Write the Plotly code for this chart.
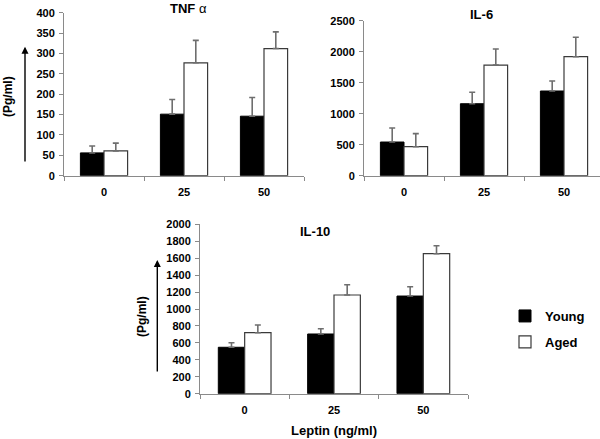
import plotly.graph_objects as go

# ---- data ----
doses = ['0', '25', '50']
series_names = ['Young', 'Aged']

tnf_young = [56, 151, 146]
tnf_young_err = [17, 36, 46]
tnf_aged = [61, 277, 312]
tnf_aged_err = [19, 55, 41]

il6_young = [543, 1161, 1366]
il6_young_err = [226, 184, 161]
il6_aged = [468, 1785, 1919]
il6_aged_err = [210, 258, 313]

il10_young = [548, 705, 1153]
il10_young_err = [54, 62, 110]
il10_aged = [720, 1165, 1653]
il10_aged_err = [91, 122, 94]

panel_titles = ['<b>TNF</b> α', '<b>IL-6</b>', '<b>IL-10</b>']
y_unit = '(Pg/ml)'
x_title = 'Leptin (ng/ml)'

W, H = 600, 439
FONT = 'Arial, "Liberation Sans", Helvetica, sans-serif'
AXC = '#8a8a8a'
ERRC = '#6e6e6e'

def px(x):
    return x / W

def py(y):
    return (H - y) / H

fig = go.Figure()

panels = [
    (tnf_young, tnf_young_err, tnf_aged, tnf_aged_err, 'x', 'y'),
    (il6_young, il6_young_err, il6_aged, il6_aged_err, 'x2', 'y2'),
    (il10_young, il10_young_err, il10_aged, il10_aged_err, 'x3', 'y3'),
]

for i, (yv, ye, av, ae, xa, ya) in enumerate(panels):
    fig.add_trace(go.Bar(
        x=doses, y=yv, name=series_names[0], legendgroup='young',
        showlegend=(i == 0), xaxis=xa, yaxis=ya, offsetgroup='young',
        marker=dict(color='#000000', line=dict(color='#000000', width=1)),
        error_y=dict(type='data', array=ye, arrayminus=[0] * len(ye),
                     symmetric=False, color=ERRC, thickness=1.6, width=3),
    ))
    fig.add_trace(go.Bar(
        x=doses, y=av, name=series_names[1], legendgroup='aged',
        showlegend=(i == 0), xaxis=xa, yaxis=ya, offsetgroup='aged',
        marker=dict(color='#ffffff', line=dict(color='#3a3a3a', width=1.2)),
        error_y=dict(type='data', array=ae, arrayminus=[0] * len(ae),
                     symmetric=False, color=ERRC, thickness=1.6, width=3),
    ))

tickfont = dict(family=FONT, size=11, color='#000000', weight='bold')

def xaxis(domain, anchor, rng=None, title=None):
    d = dict(domain=domain, anchor=anchor, type='category', showline=True,
             linecolor=AXC, linewidth=1, ticks='outside', tickson='boundaries',
             ticklen=4, tickcolor=AXC, tickfont=tickfont, showgrid=False,
             zeroline=False, ticklabelstandoff=6, automargin=False, fixedrange=True)
    if rng is not None:
        d['range'] = rng
    if title:
        d['title'] = dict(text=title, standoff=10,
                          font=dict(family=FONT, size=13, color='#000000', weight='bold'))
    return d

def yaxis(domain, anchor, rng, dtick):
    return dict(domain=domain, anchor=anchor, range=rng, dtick=dtick,
                showline=True, linecolor=AXC, linewidth=1, ticks='outside',
                ticklen=4, tickcolor=AXC, tickfont=tickfont, showgrid=False,
                zeroline=False, ticklabelstandoff=2, automargin=False, fixedrange=True)

fig.update_layout(
    width=W, height=H,
    margin=dict(l=0, r=0, t=0, b=0),
    paper_bgcolor='white', plot_bgcolor='white',
    barmode='group', bargap=0.41, bargroupgap=0,
    font=dict(family=FONT, color='#000000'),
    xaxis=xaxis([px(64), px(304)], 'y'),
    yaxis=yaxis([py(175.7), py(12.7)], 'x', [0, 400], 50),
    xaxis2=xaxis([px(364), 1.0], 'y2', rng=[-0.5, 2.45]),
    yaxis2=yaxis([py(175.7), py(20.7)], 'x2', [0, 2500], 500),
    xaxis3=xaxis([px(200), px(468)], 'y3', title=x_title),
    yaxis3=yaxis([py(393.7), py(224.3)], 'x3', [0, 2000], 200),
    legend=dict(x=px(505), y=py(301), xanchor='left', yanchor='top',
                traceorder='grouped', tracegroupgap=6,
                font=dict(family=FONT, size=13, color='#000000', weight='bold'),
                bgcolor='rgba(0,0,0,0)', borderwidth=0),
    showlegend=True,
)

ann = []
# panel titles
for txt, (cx, cy) in zip(panel_titles, [(188, 9), (481, 15), (315, 231)]):
    ann.append(dict(text=txt, x=px(cx), y=py(cy), xref='paper', yref='paper',
                    xanchor='center', yanchor='middle', showarrow=False,
                    font=dict(family=FONT, size=13, color='#000000')))
# y unit labels
for (cx, cy) in [(8, 97), (142, 317)]:
    ann.append(dict(text='<b>' + y_unit + '</b>', x=px(cx), y=py(cy), xref='paper',
                    yref='paper', xanchor='center', yanchor='middle', textangle=-90,
                    showarrow=False, font=dict(family=FONT, size=12, color='#000000')))
# upward arrows beside the unit labels
for (ax_x, tip_y, tail_y) in [(25, 46.7, 163), (157.3, 260, 373)]:
    ann.append(dict(text='', x=px(ax_x), y=py(tip_y), xref='paper', yref='paper',
                    ax=0, ay=tail_y - tip_y, showarrow=True, arrowhead=2,
                    arrowsize=1, arrowwidth=1.4, arrowcolor='#000000'))
fig.update_layout(annotations=ann)

fig.write_html('out.html', config={'displayModeBar': False, 'staticPlot': False},
               post_script="document.body.style.margin='0px';")
